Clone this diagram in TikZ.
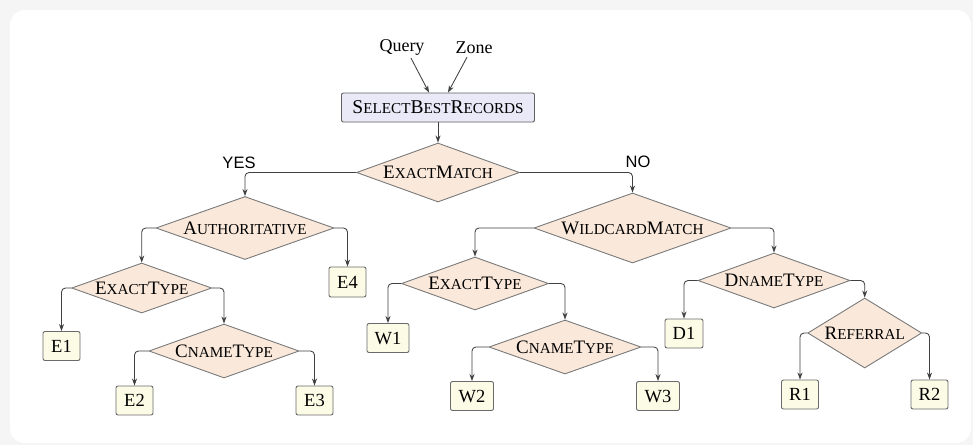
\documentclass[tikz,border=0pt]{standalone}
\usepackage{fontspec}
\setmainfont{Liberation Serif}
\newfontfamily\sansf{Liberation Sans}
\usetikzlibrary{shapes.geometric,arrows.meta}
\definecolor{bgout}{HTML}{F5F5F5}
\definecolor{dfill}{HTML}{FAE8DA}
\definecolor{dline}{HTML}{7A7A7A}
\definecolor{lfill}{HTML}{FCFBE6}
\definecolor{lline}{HTML}{6A6A6A}
\definecolor{bfill}{HTML}{E9E9F8}
\definecolor{bline}{HTML}{606060}
\definecolor{cline}{HTML}{404040}
\newcommand\lo[1]{{\fontsize{15.2pt}{16pt}\selectfont #1}}
\tikzset{
  dec/.style={diamond, draw=dline, fill=dfill, line width=0.9pt, inner sep=0pt,
    font=\fontsize{19pt}{20pt}\selectfont, text height=12.5pt, text depth=0pt},
  leaf/.style={rectangle, rounded corners=2pt, draw=lline, fill=lfill, line width=0.9pt,
    minimum height=29pt, inner sep=0pt, font=\fontsize{18.5pt}{19pt}\selectfont,
    text height=12.8pt, text depth=0pt},
  topbox/.style={rectangle, rounded corners=2pt, draw=bline, fill=bfill, line width=0.9pt,
    minimum width=193pt, minimum height=29pt, inner sep=0pt,
    font=\fontsize{19.5pt}{20pt}\selectfont, text height=12.8pt, text depth=0pt},
  inp/.style={inner sep=0pt, font=\fontsize{18pt}{19pt}\selectfont},
  yn/.style={inner sep=0pt, font=\sansf\fontsize{16.5pt}{17pt}\selectfont},
  conn/.style={draw=cline, line width=0.85pt, rounded corners=4pt,
    -{Stealth[length=7pt,width=5pt]}}
}
\newcommand\zb[1]{\makebox[0pt]{#1}}
\begin{document}
\begin{tikzpicture}[x=1pt,y=-1pt]
\useasboundingbox (0,0) rectangle (973,445);
\fill[bgout] (0,0) rectangle (973,445);
\fill[white, rounded corners=15pt] (10,10) rectangle (971,443);

\node[inp] (q) at (402,47) {Query};
\node[inp] (z) at (474,48) {Zone};
\node[topbox] (sbr) at (438,107.5) {S\lo{ELECT}B\lo{EST}R\lo{ECORDS}};

\node[dec, minimum width=163pt, minimum height=59pt] (em) at (438,172.5) {\zb{E\lo{XACT}M\lo{ATCH}}};
\node[yn] (yes) at (239,163) {YES};
\node[yn] (no) at (638,162) {NO};

\node[dec, minimum width=178pt, minimum height=63pt] (auth) at (245,228) {\zb{A\lo{UTHORITATIVE}}};
\node[dec, minimum width=197pt, minimum height=70pt] (wm) at (632.5,228) {\zb{W\lo{ILDCARD}M\lo{ATCH}}};

\node[dec, minimum width=140pt, minimum height=50pt] (et1) at (141.7,288) {\zb{E\lo{XACT}T\lo{YPE}}};
\node[leaf, minimum width=37pt, minimum height=30pt] (e4) at (347.5,282) {E4};
\node[leaf, minimum width=37pt] (e1) at (61.5,346) {E1};
\node[dec, minimum width=150pt, minimum height=54pt] (cn1) at (224,351) {\zb{C\lo{NAME}T\lo{YPE}}};
\node[leaf, minimum width=37pt] (e2) at (134.5,400.5) {E2};
\node[leaf, minimum width=37pt] (e3) at (314.5,400.5) {E3};

\node[dec, minimum width=147pt, minimum height=53pt] (et2) at (475,283.5) {\zb{E\lo{XACT}T\lo{YPE}}};
\node[leaf, minimum width=42pt] (w1) at (388,338) {W1};
\node[dec, minimum width=152pt, minimum height=54pt] (cn2) at (565,347) {\zb{C\lo{NAME}T\lo{YPE}}};
\node[leaf, minimum width=43pt] (w2) at (472,396) {W2};
\node[leaf, minimum width=43pt] (w3) at (658,396) {W3};

\node[dec, minimum width=152pt, minimum height=55pt] (dn) at (774,280.5) {\zb{D\lo{NAME}T\lo{YPE}}};
\node[leaf, minimum width=38pt] (d1) at (684,333.5) {D1};
\node[dec, minimum width=114pt, minimum height=70pt] (ref) at (864.7,333) {\zb{R\lo{EFERRAL}}};
\node[leaf, minimum width=37pt] (r1) at (800,394.5) {R1};
\node[leaf, minimum width=37pt] (r2) at (929.5,394.5) {R2};

\draw[conn] ([xshift=9pt,yshift=-3pt]q.south) -- ([xshift=-9pt]sbr.north);
\draw[conn] ([xshift=-7pt,yshift=-3pt]z.south) -- ([xshift=10pt]sbr.north);
\draw[conn] (sbr.south) -- (em.north);
\draw[conn] (em.west) -| (auth.north);
\draw[conn] (em.east) -| (wm.north);
\draw[conn] (auth.west) -| (et1.north);
\draw[conn] (auth.east) -| (e4.north);
\draw[conn] (et1.west) -| (e1.north);
\draw[conn] (et1.east) -| (cn1.north);
\draw[conn] (cn1.west) -| (e2.north);
\draw[conn] (cn1.east) -| (e3.north);
\draw[conn] (wm.west) -| (et2.north);
\draw[conn] (wm.east) -| (dn.north);
\draw[conn] (et2.west) -| (w1.north);
\draw[conn] (et2.east) -| (cn2.north);
\draw[conn] (cn2.west) -| (w2.north);
\draw[conn] (cn2.east) -| (w3.north);
\draw[conn] (dn.west) -| (d1.north);
\draw[conn] (dn.east) -| (ref.north);
\draw[conn] (ref.west) -| (r1.north);
\draw[conn] (ref.east) -| (r2.north);
\end{tikzpicture}
\end{document}
